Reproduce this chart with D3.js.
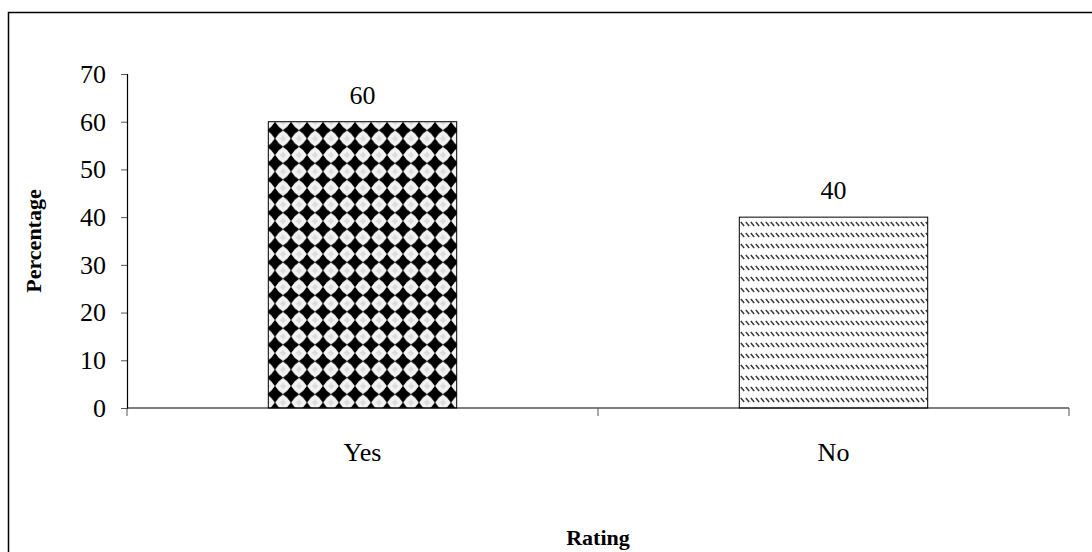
<!DOCTYPE html>
<html>
<head>
<meta charset="utf-8">
<script src="https://cdn.jsdelivr.net/npm/d3@7"></script>
<style>
  html, body { margin: 0; padding: 0; background: #fff; }
  svg { display: block; }
  text { font-family: "Liberation Serif", "Times New Roman", serif; fill: #000; }
</style>
</head>
<body>
<svg id="chart" width="1092" height="552"></svg>
<script>
// Survey responses (percent)
const categories = ["Yes", "No"];
const values = [60, 40];
const yTicks = [0, 10, 20, 30, 40, 50, 60, 70];
const xTitle = "Rating";
const yTitle = "Percentage";

const svg = d3.select("#chart");
const W = 1092, H = 552;
const plot = { left: 127, right: 1069, top: 74, bottom: 408 };
const FS = 26;      // tick and data labels
const TFS = 22;     // axis titles

// Outer frame (runs off the right and bottom edges)
svg.append("rect")
  .attr("x", 8.5).attr("y", 12.5)
  .attr("width", W).attr("height", H)
  .attr("fill", "none").attr("stroke", "#000").attr("stroke-width", 1.5);

// Fill patterns
const defs = svg.append("defs");

const star = (cx, cy, r, k) =>
  `M${cx},${cy - r} Q${cx + k},${cy - k} ${cx + r},${cy} Q${cx + k},${cy + k} ${cx},${cy + r} Q${cx - k},${cy + k} ${cx - r},${cy} Q${cx - k},${cy - k} ${cx},${cy - r}Z`;

const pYes = defs.append("pattern")
  .attr("id", "pat-yes").attr("patternUnits", "userSpaceOnUse")
  .attr("x", 267).attr("y", 122)
  .attr("width", 16).attr("height", 16.5);
pYes.append("rect").attr("width", 16).attr("height", 16.5).attr("fill", "#f2f2f2");
pYes.append("path").attr("d", star(8, 8.25, 8.6, 3.0)).attr("fill", "#000");
[[0, 0], [16, 0], [0, 16.5], [16, 16.5]].forEach(([cx, cy]) => {
  pYes.append("path").attr("d", star(cx, cy, 3.5, 1.2)).attr("fill", "#dcdcdc");
});

const pNo = defs.append("pattern")
  .attr("id", "pat-no").attr("patternUnits", "userSpaceOnUse")
  .attr("x", 0).attr("y", 220)
  .attr("width", 5).attr("height", 11);
pNo.append("rect").attr("width", 5).attr("height", 11).attr("fill", "#fff");
pNo.append("line")
  .attr("x1", 0.8).attr("y1", 2).attr("x2", 4.2).attr("y2", 6)
  .attr("stroke", "#3a3a3a").attr("stroke-width", 1.5);

// Scales
const x = d3.scaleBand().domain(categories)
  .range([plot.left, plot.right]).paddingInner(0).paddingOuter(0);
const y = d3.scaleLinear().domain([0, 70]).range([plot.bottom, plot.top]);
const barW = x.bandwidth() * 0.4;

const rows = categories.map((c, i) => ({ c, v: values[i] }));

// Bars
svg.append("g").selectAll("rect")
  .data(rows)
  .join("rect")
  .attr("x", d => x(d.c) + (x.bandwidth() - barW) / 2)
  .attr("y", d => y(d.v))
  .attr("width", barW)
  .attr("height", d => y(0) - y(d.v))
  .attr("fill", (d, i) => i === 0 ? "url(#pat-yes)" : "url(#pat-no)")
  .attr("stroke", "#000").attr("stroke-width", 1);

// Value labels
svg.append("g").selectAll("text")
  .data(rows)
  .join("text")
  .attr("x", d => x(d.c) + x.bandwidth() / 2)
  .attr("y", d => y(d.v) - 18)
  .attr("text-anchor", "middle")
  .attr("font-size", FS)
  .text(d => d.v);

// Y axis
const yAxis = svg.append("g")
  .attr("transform", `translate(${plot.left},0)`)
  .call(d3.axisLeft(y).tickValues(yTicks).tickSize(6).tickPadding(15));
yAxis.select(".domain").attr("stroke", "#000").attr("stroke-width", 1.2);
yAxis.selectAll(".tick line").attr("stroke", "#555");
yAxis.selectAll(".tick text")
  .attr("font-family", "Liberation Serif, Times New Roman, serif")
  .attr("font-size", FS).attr("fill", "#000");

// X axis with ticks at category boundaries
svg.append("line")
  .attr("x1", plot.left).attr("x2", plot.right)
  .attr("y1", plot.bottom).attr("y2", plot.bottom)
  .attr("stroke", "#000").attr("stroke-width", 1.2);
const bounds = [x(categories[0]), ...categories.map(c => x(c) + x.bandwidth())];
svg.append("g").selectAll("line")
  .data(bounds)
  .join("line")
  .attr("x1", d => d).attr("x2", d => d)
  .attr("y1", plot.bottom).attr("y2", plot.bottom + 8)
  .attr("stroke", "#555").attr("stroke-width", 1);
svg.append("g").selectAll("text")
  .data(categories)
  .join("text")
  .attr("x", d => x(d) + x.bandwidth() / 2)
  .attr("y", 461)
  .attr("text-anchor", "middle")
  .attr("font-size", FS)
  .text(d => d);

// Axis titles
svg.append("text")
  .attr("x", (plot.left + plot.right) / 2)
  .attr("y", 545)
  .attr("text-anchor", "middle")
  .attr("font-size", TFS).attr("font-weight", "bold")
  .text(xTitle);
svg.append("text")
  .attr("transform", `translate(41,${(plot.top + plot.bottom) / 2}) rotate(-90)`)
  .attr("text-anchor", "middle")
  .attr("font-size", TFS).attr("font-weight", "bold")
  .text(yTitle);
</script>
</body>
</html>
